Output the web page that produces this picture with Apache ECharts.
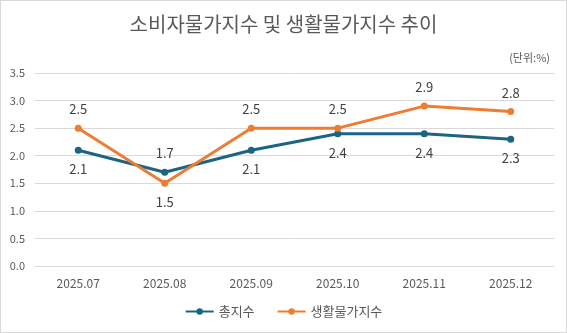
<!DOCTYPE html>
<html><head><meta charset="utf-8">
<script src="https://cdn.jsdelivr.net/npm/echarts@6/dist/echarts.min.js"></script>
<style>html,body{margin:0;padding:0;background:#fff}#c{width:565px;height:331px;border:1px solid #d9d9d9}</style>
</head><body><div id="c"></div>
<script>
const categories = ['2025.07','2025.08','2025.09','2025.10','2025.11','2025.12'];
const totalIndex = [2.1,1.7,2.1,2.4,2.4,2.3];
const livingIndex = [2.5,1.5,2.5,2.5,2.9,2.8];
const totalLabelPos = ['bottom','top','bottom','bottom','bottom','bottom'];
const livingLabelPos = ['top','bottom','top','top','top','top'];
const font = 'Noto Sans CJK KR, Noto Sans, sans-serif';
const chart = echarts.init(document.getElementById('c'));
function mk(vals, pos){return vals.map((v,i)=>({value:v,label:{position:pos[i]}}));}
chart.setOption({
  animation:false,
  textStyle:{fontFamily:font},
  title:{text:'소비자물가지수 및 생활물가지수 추이',left:'center',top:8,textStyle:{fontSize:20,fontWeight:'normal',color:'#595959',fontFamily:font}},
  graphic:[{type:'text',right:16,top:51,style:{text:'(단위:%)',fontSize:11,fill:'#595959',fontFamily:font}}],
  grid:{left:34,right:12,top:72,bottom:66},
  legend:{bottom:9,left:'center',itemWidth:28,itemHeight:8,itemGap:22,textStyle:{fontSize:13,color:'#595959',fontFamily:font},
    data:['총지수','생활물가지수']},
  xAxis:{type:'category',data:categories,boundaryGap:true,axisLine:{show:false},axisTick:{show:false},
    axisLabel:{fontSize:12,color:'#595959',margin:11,fontFamily:font}},
  yAxis:{type:'value',min:0,max:3.5,interval:0.5,axisLabel:{fontSize:11,color:'#595959',formatter:v=>v.toFixed(1),margin:10,fontFamily:font},
    splitLine:{lineStyle:{color:'#d9d9d9'}},axisLine:{show:false},axisTick:{show:false}},
  series:[
    {name:'총지수',type:'line',data:mk(totalIndex,totalLabelPos),color:'#1b6484',symbol:'circle',symbolSize:7,
      lineStyle:{width:3},label:{show:true,fontSize:13,color:'#404040',distance:9,formatter:p=>p.value.toFixed(1)}},
    {name:'생활물가지수',type:'line',data:mk(livingIndex,livingLabelPos),color:'#ed7d31',symbol:'circle',symbolSize:7,
      lineStyle:{width:3},label:{show:true,fontSize:13,color:'#404040',distance:9,formatter:p=>p.value.toFixed(1)}}
  ]
});
</script></body></html>
